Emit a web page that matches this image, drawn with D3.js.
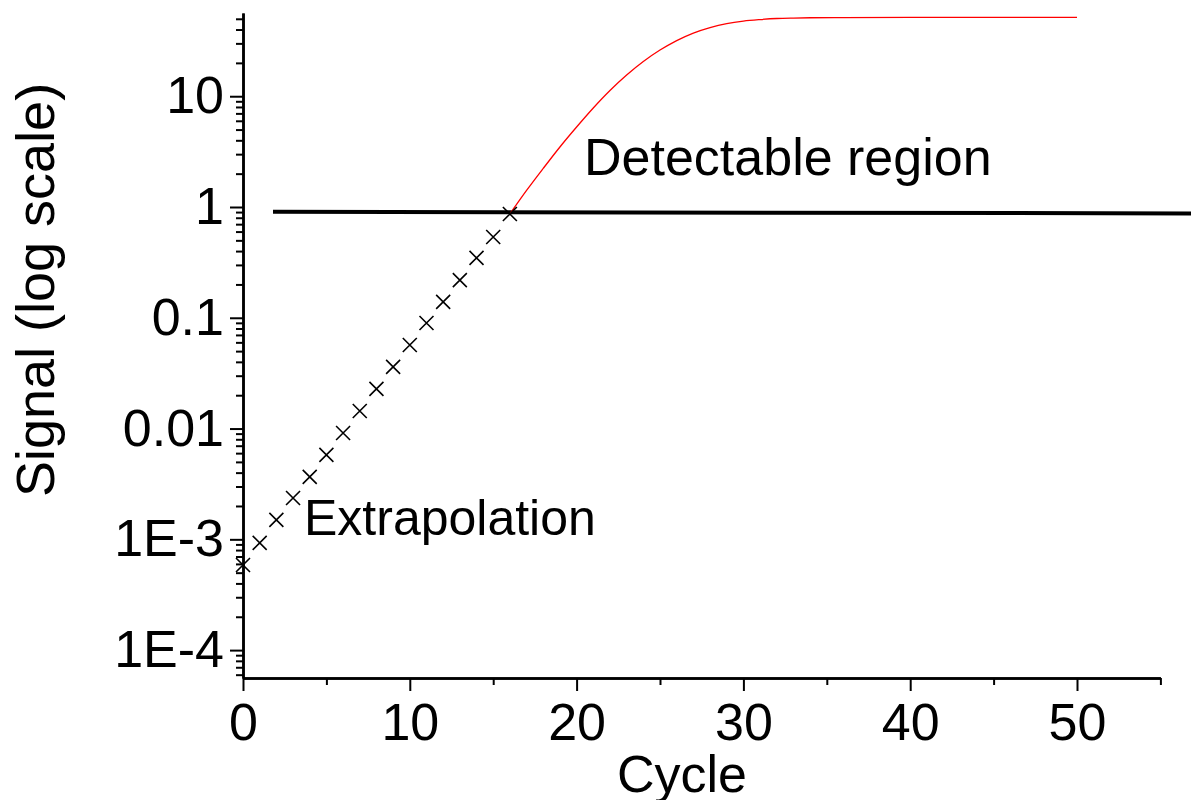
<!DOCTYPE html>
<html>
<head>
<meta charset="utf-8">
<script src="https://cdn.jsdelivr.net/npm/d3@7"></script>
<style>
  html, body { margin: 0; padding: 0; background: #fff; }
  svg { display: block; font-family: "Liberation Sans", Arial, sans-serif; }
</style>
</head>
<body>
<svg id="chart" width="1191" height="800"></svg>
<script>
// ---- data ----
const crossCycles = [0,1,2,3,4,5,6,7,8,9,10,11,12,13,14,15,16];
const crossValues = [5.87e-4, 9.29e-4, 1.50e-3, 2.36e-3, 3.66e-3, 5.78e-3, 9.12e-3,
                     0.0144, 0.0228, 0.0360, 0.0568, 0.0898, 0.139, 0.219, 0.347, 0.536, 0.865];
const curveCycles = [16,17,18,19,20,21,22,23,24,25,26,27,28,29,30,31,32,33,34,36,40,45,50];
const curveValues = [0.865, 1.41, 2.23, 3.48, 5.27, 7.83, 11.26, 15.54, 20.57, 26.1, 31.8, 37.2,
                     41.7, 45.3, 47.7, 49.2, 50.3, 50.8, 51.1, 51.3, 51.5, 51.5, 51.5];
const thresholdCycles = [1.8, 57];
const thresholdValues = [0.905, 0.875];
const xMajorTicks = [0, 10, 20, 30, 40, 50];
const xMinorTicks = [5, 15, 25, 35, 45, 55];
const yMajorTicks = [1e-4, 1e-3, 0.01, 0.1, 1, 10];
const yMajorLabels = ["1E-4", "1E-3", "0.01", "0.1", "1", "10"];
const annotations = ["Detectable region", "Extrapolation"];
const xTitle = "Cycle";
const yTitle = "Signal (log scale)";

// ---- scales ----
const svg = d3.select("#chart");
const x = d3.scaleLinear().domain([0, 55]).range([243, 1160.4]);
const y = d3.scaleLog().domain([5.6e-5, 56.4]).range([678, 13]);

const yMinorTicks = [];
[1e-5, 1e-4, 1e-3, 0.01, 0.1, 1, 10].forEach(d => {
  for (let k = 2; k <= 9; k++) {
    const v = d * k;
    if (v >= 5.6e-5 && v <= 56.4) yMinorTicks.push(v);
  }
});

// ---- axes ----
const axStroke = 2.5;
const gyMinor = svg.append("g").attr("transform", `translate(${x(0)},0)`)
  .call(d3.axisLeft(y).tickValues(yMinorTicks).tickSize(7).tickSizeOuter(0).tickFormat(""));
const gyMajor = svg.append("g").attr("transform", `translate(${x(0)},0)`)
  .call(d3.axisLeft(y).tickValues(yMajorTicks).tickSize(13).tickSizeOuter(0).tickPadding(6)
    .tickFormat((d, i) => yMajorLabels[i]));
const gxMinor = svg.append("g").attr("transform", `translate(0,${y.range()[0]})`)
  .call(d3.axisBottom(x).tickValues(xMinorTicks).tickSize(7).tickSizeOuter(0).tickFormat(""));
const gxMajor = svg.append("g").attr("transform", `translate(0,${y.range()[0]})`)
  .call(d3.axisBottom(x).tickValues(xMajorTicks).tickSize(13).tickSizeOuter(0).tickPadding(12));

[gyMinor, gyMajor, gxMinor, gxMajor].forEach(g => {
  g.select(".domain").attr("stroke", "#000").attr("stroke-width", axStroke);
  g.selectAll(".tick line").attr("stroke", "#000").attr("stroke-width", 2);
  g.selectAll(".tick text").attr("fill", "#000").style("font-size", "52px")
    .style("font-family", "'Liberation Sans', Arial, sans-serif");
});
gyMajor.selectAll(".tick text").attr("dy", "0.32em");

// ---- threshold line ----
const line = d3.line().x(d => x(d[0])).y(d => y(d[1]));
svg.append("path")
  .datum(thresholdCycles.map((c, i) => [c, thresholdValues[i]]))
  .attr("d", line).attr("fill", "none").attr("stroke", "#000").attr("stroke-width", 4);

// ---- red amplification curve ----
const curveLine = d3.line().x(d => x(d[0])).y(d => y(d[1])).curve(d3.curveMonotoneX);
svg.append("path")
  .datum(curveCycles.map((c, i) => [c, curveValues[i]]))
  .attr("d", curveLine)
  .attr("fill", "none").attr("stroke", "#ff0000").attr("stroke-width", 1.3);

// ---- crosses ----
const r = 7;
svg.append("g").selectAll("path")
  .data(crossCycles.map((c, i) => [c, crossValues[i]]))
  .join("path")
  .attr("d", d => {
    const cx = x(d[0]), cy = y(d[1]);
    return `M${cx - r},${cy - r}L${cx + r},${cy + r}M${cx + r},${cy - r}L${cx - r},${cy + r}`;
  })
  .attr("fill", "none").attr("stroke", "#000").attr("stroke-width", 1.6);

// ---- annotations ----
svg.append("text").attr("x", 584).attr("y", 175)
  .style("font-size", "52px").attr("fill", "#000").text(annotations[0]);
svg.append("text").attr("x", 304).attr("y", 535)
  .style("font-size", "50px").attr("fill", "#000").text(annotations[1]);

// ---- axis titles ----
svg.append("text").attr("x", 682).attr("y", 792).attr("text-anchor", "middle")
  .style("font-size", "52px").attr("fill", "#000").text(xTitle);
svg.append("text").attr("transform", "translate(54,290) rotate(-90)").attr("text-anchor", "middle")
  .style("font-size", "54px").attr("fill", "#000").text(yTitle);
</script>
</body>
</html>
